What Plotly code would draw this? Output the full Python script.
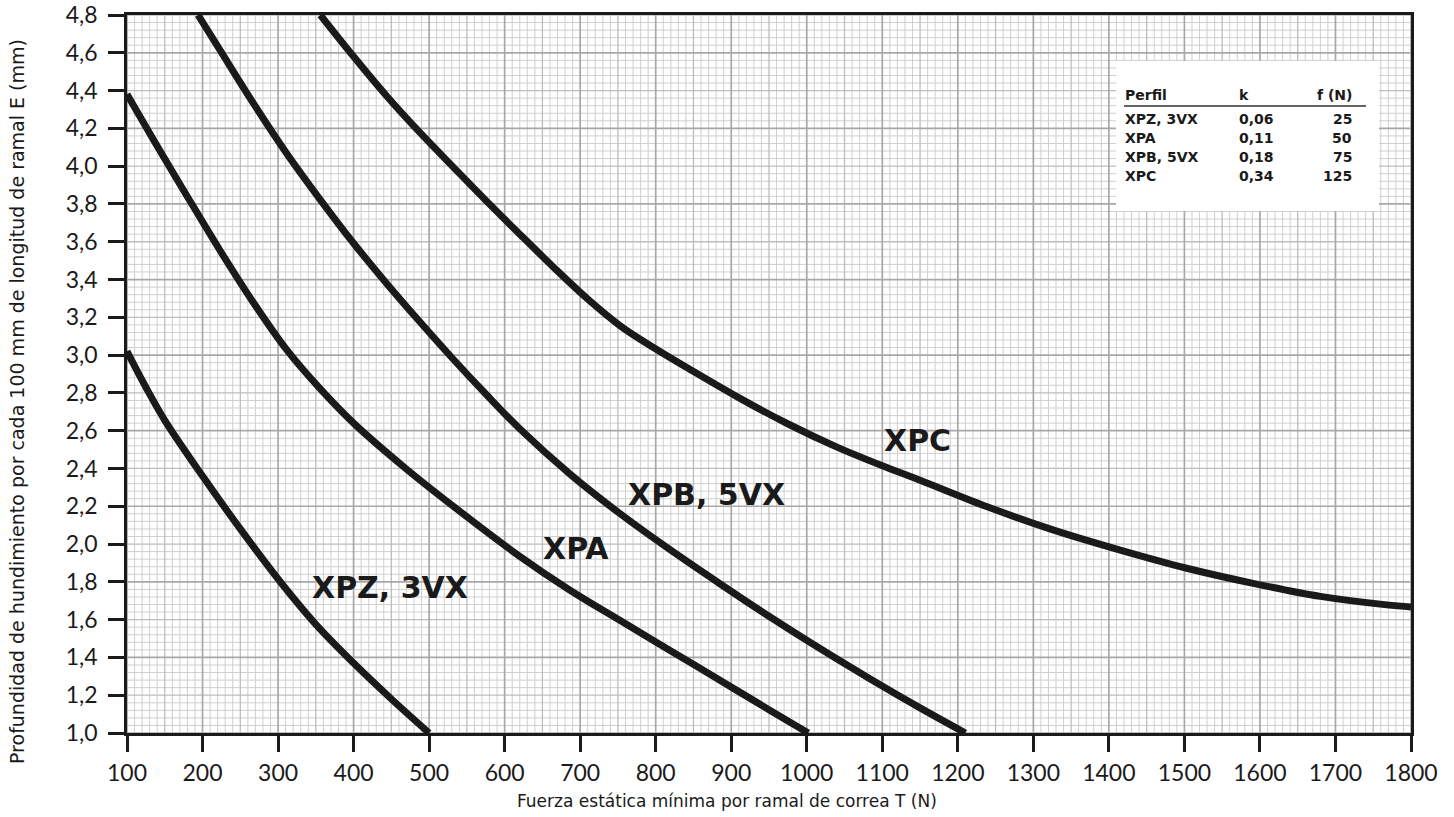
import numpy as np
import plotly.graph_objects as go

# ---- axis ticks ----
force_ticks = [100, 200, 300, 400, 500, 600, 700, 800, 900, 1000,
               1100, 1200, 1300, 1400, 1500, 1600, 1700, 1800]
force_tick_text = ["100", "200", "300", "400", "500", "600", "700", "800", "900", "1000",
                   "1100", "1200", "1300", "1400", "1500", "1600", "1700", "1800"]
depth_ticks = [1.0, 1.2, 1.4, 1.6, 1.8, 2.0, 2.2, 2.4, 2.6, 2.8,
               3.0, 3.2, 3.4, 3.6, 3.8, 4.0, 4.2, 4.4, 4.6, 4.8]
depth_tick_text = ["1,0", "1,2", "1,4", "1,6", "1,8", "2,0", "2,2", "2,4", "2,6", "2,8",
                   "3,0", "3,2", "3,4", "3,6", "3,8", "4,0", "4,2", "4,4", "4,6", "4,8"]

# ---- curves: force T (N) -> deflection E (mm per 100 mm span) ----
xpz_T = [100, 125, 150, 200, 250, 300, 350, 400, 450, 500]
xpz_E = [3.02, 2.83, 2.655, 2.36, 2.08, 1.815, 1.575, 1.37, 1.18, 1.0]

xpa_T = [100, 135, 179, 223, 267, 311, 355, 400, 466, 532, 620, 686, 753, 819, 885, 951, 1002]
xpa_E = [4.38, 4.14, 3.845, 3.555, 3.28, 3.03, 2.825, 2.64, 2.41, 2.20, 1.935, 1.757, 1.595, 1.437,
         1.279, 1.121, 1.0]

xpb_T = [194, 223, 267, 311, 356, 400, 444, 488, 532, 576, 620, 686, 753, 819, 885, 951, 1017,
         1084, 1150, 1210]
xpb_E = [4.8, 4.615, 4.335, 4.07, 3.822, 3.592, 3.378, 3.175, 2.978, 2.79, 2.61, 2.372, 2.16,
         1.97, 1.79, 1.615, 1.448, 1.286, 1.133, 1.0]

xpc_T = [356, 400, 444, 488, 532, 576, 620, 664, 709, 753, 797, 845, 908, 974, 1040, 1106, 1150,
         1238, 1326, 1415, 1503, 1591, 1680, 1768, 1800]
xpc_E = [4.8, 4.58, 4.37, 4.177, 3.995, 3.815, 3.64, 3.468, 3.30, 3.155, 3.04, 2.925, 2.779, 2.638,
         2.513, 2.405, 2.338, 2.199, 2.075, 1.968, 1.872, 1.792, 1.723, 1.678, 1.667]

# ---- reference table ----
table_header = ["Perfil", "k", "f (N)"]
profiles = ["XPZ, 3VX", "XPA", "XPB, 5VX", "XPC"]
k_values = ["0,06", "0,11", "0,18", "0,34"]
f_values = ["25", "50", "75", "125"]

X0, X1 = 100, 1800
Y0, Y1 = 1.0, 4.8

INK = "#1a1a1a"
TICK_FONT = "Lato, 'DejaVu Sans', sans-serif"
TITLE_FONT = "'DejaVu Sans', sans-serif"
BOLD_FONT = "'DejaVu Sans', sans-serif"

fig = go.Figure()


def grid_trace(xs, ys, color, width):
    return go.Scatter(x=xs, y=ys, mode="lines", hoverinfo="skip", showlegend=False,
                      line=dict(color=color, width=width))


def grid_lines(step_x, step_y, keep_x, keep_y):
    xs, ys = [], []
    for i, xv in enumerate(np.round(np.arange(X0, X1 + 1e-6, step_x), 6)):
        if keep_x(i):
            xs += [xv, xv, None]
            ys += [Y0, Y1, None]
    for j, yv in enumerate(np.round(np.arange(Y0, Y1 + 1e-6, step_y), 6)):
        if keep_y(j):
            xs += [X0, X1, None]
            ys += [yv, yv, None]
    return xs, ys


# millimetre paper: fine lines, half-centimetre lines, centimetre lines
gx, gy = grid_lines(10, 0.04, lambda i: i % 5 != 0, lambda j: j % 5 != 0)
fig.add_trace(grid_trace(gx, gy, "#cfcfcf", 1))
gx, gy = grid_lines(10, 0.04, lambda i: i % 5 == 0 and i % 10 != 0, lambda j: j % 5 == 0 and j % 10 != 0)
fig.add_trace(grid_trace(gx, gy, "#bdbdbd", 1.3))
gx, gy = grid_lines(10, 0.04, lambda i: i % 10 == 0, lambda j: j % 10 == 0)
fig.add_trace(grid_trace(gx, gy, "#a8a8a8", 1.7))

for T, E in [(xpz_T, xpz_E), (xpa_T, xpa_E), (xpb_T, xpb_E), (xpc_T, xpc_E)]:
    fig.add_trace(go.Scatter(x=T, y=E, mode="lines", showlegend=False,
                             line=dict(color=INK, width=7, shape="spline", smoothing=1.0)))

# curve labels
curve_labels = [("XPZ, 3VX", 448, 1.772), ("XPA", 694, 1.978),
                ("XPB, 5VX", 867, 2.263), ("XPC", 1147, 2.548)]
for text, lx, ly in curve_labels:
    fig.add_annotation(x=lx, y=ly, text=text, showarrow=False, xanchor="center", yanchor="middle",
                       font=dict(family=BOLD_FONT, size=30, color=INK, weight="bold"))

# layout helpers (pixel position -> paper fraction)
L, R, T_, B = 127, 1411, 15, 733


def px_x(p):
    return (p - L) / (R - L)


def px_y(p):
    return (B - p) / (B - T_)


# white box holding the table
fig.add_shape(type="rect", xref="paper", yref="paper",
              x0=px_x(1116), x1=px_x(1379), y0=px_y(211), y1=px_y(61),
              fillcolor="white", line=dict(width=0), layer="above")
fig.add_shape(type="line", xref="paper", yref="paper",
              x0=px_x(1124), x1=px_x(1366), y0=px_y(106), y1=px_y(106),
              line=dict(color="#333333", width=1.5), layer="above")

tab_font = dict(family=BOLD_FONT, size=14, color=INK, weight="bold")
col_profile, col_k, col_f = 1124, 1238, 1353
header_y = 95
row_ys = [119, 138, 157, 176]


def table_cell(text, px, py, anchor):
    fig.add_annotation(xref="paper", yref="paper", x=px_x(px), y=px_y(py), text=text,
                       showarrow=False, xanchor=anchor, yanchor="middle", borderpad=0,
                       font=tab_font)


table_cell(table_header[0], col_profile, header_y, "left")
table_cell(table_header[1], col_k, header_y, "left")
table_cell(table_header[2], col_f, header_y, "right")
for name, kv, fv, ry in zip(profiles, k_values, f_values, row_ys):
    table_cell(name, col_profile, ry, "left")
    table_cell(kv, col_k, ry, "left")
    table_cell(fv, col_f, ry, "right")

# axis titles
fig.add_annotation(xref="paper", yref="paper", x=px_x(727), y=px_y(801),
                   text="Fuerza estática mínima por ramal de correa T (N)", showarrow=False,
                   xanchor="center", yanchor="middle", font=dict(family=TITLE_FONT, size=17, color=INK))
fig.add_annotation(xref="paper", yref="paper", x=px_x(17), y=px_y(402),
                   text="Profundidad de hundimiento por cada 100 mm de longitud de ramal E (mm)",
                   showarrow=False, textangle=-90, xanchor="center", yanchor="middle",
                   font=dict(family=TITLE_FONT, size=19, color=INK))

axis_common = dict(showgrid=False, zeroline=False, showline=True, linecolor=INK, linewidth=2.5,
                   mirror=True, ticks="outside", ticklen=16, tickwidth=2.5, tickcolor=INK,
                   automargin=False,
                   tickfont=dict(family=TICK_FONT, size=23, color=INK))

fig.update_layout(
    width=1454, height=817,
    margin=dict(l=L, r=1454 - R, t=T_, b=817 - B, autoexpand=False),
    paper_bgcolor="white", plot_bgcolor="white",
    xaxis=dict(range=[X0, X1], tickvals=force_ticks, ticktext=force_tick_text,
               ticklabelstandoff=2, **axis_common),
    yaxis=dict(range=[Y0, Y1], tickvals=depth_ticks, ticktext=depth_tick_text,
               ticklabelstandoff=6, **axis_common),
)

fig.write_html("out.html")
